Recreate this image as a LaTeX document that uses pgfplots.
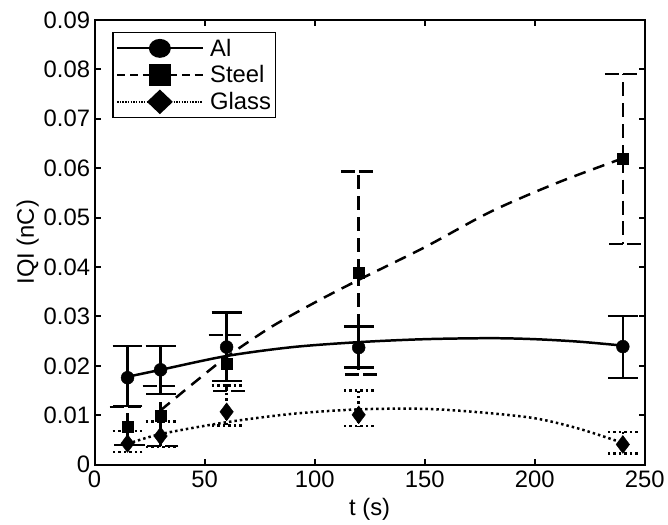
\documentclass[border=0pt]{standalone}
\usepackage{pgfplots}
\pgfplotsset{compat=1.18}
\usepackage{fontspec}
\setmainfont{Liberation Sans}
\begin{document}
\begin{tikzpicture}
\begin{axis}[
    name=ax,
    scale only axis,
    width=553bp, height=447bp,
    xmin=0, xmax=250, ymin=0, ymax=0.09,
    xtick={0,50,100,150,200,250},
    ytick={0,0.01,0.02,0.03,0.04,0.05,0.06,0.07,0.08,0.09},
    yticklabels={0,0.01,0.02,0.03,0.04,0.05,0.06,0.07,0.08,0.09},
    /pgf/number format/assume math mode=true,
    tick align=inside,
    major tick length=6bp,
    axis line style={line width=2bp},
    every tick/.style={black, line width=2bp},
    font=\fontsize{24}{28}\selectfont,
    tick label style={font=\fontsize{24}{28}\selectfont},
    xticklabel style={yshift=-3bp},
    yticklabel style={xshift=-1bp},
    label style={font=\fontsize{24}{28}\selectfont},
    xlabel={t (s)}, ylabel={IQI (nC)},
    xlabel style={yshift=-3bp},
    ylabel style={yshift=-2bp},
    scaled y ticks=false,
    legend style={at={(0.0326,0.973)}, anchor=north west, draw=black,
        line width=1.3bp, inner xsep=3bp, inner ysep=5bp,
        font=\fontsize{24}{28}\selectfont, row sep=5bp, column sep=5bp,
        nodes={inner sep=1.5bp}},
    legend cell align=left,
    legend image code/.code={
        \draw[mark repeat=2,mark phase=2] plot coordinates {(0bp,0bp) (43bp,0bp) (86bp,0bp)};},
    error bars/y dir=both, error bars/y explicit,
]
% legend entries
\addlegendimage{black, line width=2bp, solid, mark=*, mark size=10bp, mark options={solid, yscale=0.85}}
\addlegendentry{Al}
\addlegendimage{black, line width=2bp, dash pattern=on 8bp off 5bp, mark=square*, mark size=10bp, mark options={solid}}
\addlegendentry{Steel}
\addlegendimage{black, line width=2bp, dash pattern=on 1.5bp off 1.2bp, mark=diamond*, mark size=11bp, mark options={solid, xscale=1.4}}
\addlegendentry{Glass}

% fits
\addplot[black, line width=2.5bp, smooth, forget plot] coordinates {
 (15,0.0178) (30,0.0192) (60,0.0220) (90,0.0238) (120,0.0248) (150,0.0254)
 (180,0.0256) (200,0.0254) (220,0.0249) (240,0.0241)};
\addplot[black, line width=2.5bp, dash pattern=on 12bp off 8bp, smooth, forget plot] coordinates {
 (30,0.0110) (45,0.0165) (60,0.0218) (80,0.0278) (100,0.0328) (120,0.0374)
 (150,0.0440) (180,0.0512) (210,0.0570) (240,0.0620)};
\addplot[black, line width=2.5bp, dash pattern=on 2.5bp off 3bp, smooth, forget plot] coordinates {
 (15,0.0042) (30,0.0062) (60,0.0086) (90,0.0103) (120,0.0112) (150,0.0113)
 (175,0.0106) (200,0.0094) (220,0.0073) (240,0.0044)};

% Al data
\addplot[black, only marks, mark=*, mark size=6.5bp, forget plot,
    error bars/error bar style={line width=2.5bp, solid},
    error bars/error mark options={rotate=90, mark size=15bp, line width=2.5bp}]
 coordinates {
 (15,0.0176) += (0,0.0064) -= (0,0.0057)
 (30,0.0192) += (0,0.0048) -= (0,0.0049)
 (60,0.0238) += (0,0.0070) -= (0,0.0069)
 (120,0.0237) += (0,0.0043) -= (0,0.0040)
 (240,0.0239) += (0,0.0062) -= (0,0.0064)};
% Steel data
\addplot[black, only marks, mark=square*, mark size=5.5bp, forget plot,
    error bars/error bar style={line width=2.5bp, dash pattern=on 14bp off 7bp},
    error bars/error mark options={rotate=90, mark size=18bp, line width=2.5bp, dash pattern=on 14bp off 4bp}]
 coordinates {
 (15,0.0077) += (0,0.0040) -= (0,0.0037)
 (30,0.0099) += (0,0.0060) -= (0,0.0061)
 (60,0.0205) += (0,0.0057) -= (0,0.0056)
 (120,0.0389) += (0,0.0204) -= (0,0.0206)
 (240,0.0619) += (0,0.0172) -= (0,0.0172)};
% Glass data
\addplot[black, only marks, mark=diamond*, mark size=9bp, forget plot,
    error bars/error bar style={line width=2.5bp, dash pattern=on 2.5bp off 3bp},
    error bars/error mark options={rotate=90, mark size=15bp, line width=2.5bp, dash pattern=on 2.5bp off 3bp}]
 coordinates {
 (15,0.0043) += (0,0.0025) -= (0,0.0017)
 (30,0.0058) += (0,0.0029) -= (0,0.0022)
 (60,0.0107) += (0,0.0053) -= (0,0.0028)
 (120,0.0101) += (0,0.0049) -= (0,0.0023)
 (240,0.0041) += (0,0.0025) -= (0,0.0018)};
\end{axis}
\path ([shift={(-95bp,-60bp)}]ax.south west) rectangle ([shift={(20bp,20bp)}]ax.north east);
\end{tikzpicture}
\end{document}
